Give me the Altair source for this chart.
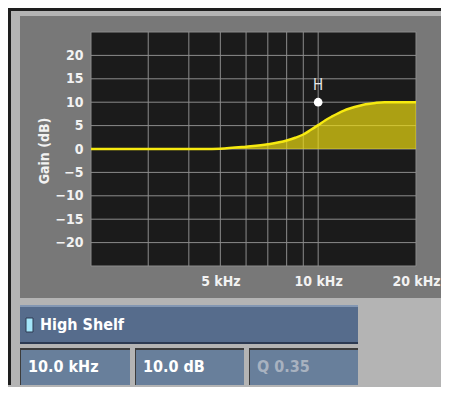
import altair as alt
import pandas as pd

# ---------------- data ----------------
freqs = [2000, 3000, 4000, 4500, 5000, 6000, 7000, 8000, 8500, 9000, 9500, 10000,
         10500, 11000, 12000, 12500, 13500, 14000, 15000, 16000, 18000, 20000]
gains = [0, 0, 0, 0.02, 0.07, 0.5, 1.0, 1.8, 2.4, 3.1, 4.1, 5.1,
         6.1, 6.9, 8.2, 8.65, 9.3, 9.55, 9.85, 10.0, 10.0, 10.0]

grid_freqs = [3000, 4000, 5000, 6000, 7000, 8000, 9000, 10000]
grid_gains = [-20, -15, -10, -5, 0, 5, 10, 15, 20]
x_tick_values = [5000, 10000, 20000]
y_tick_values = [-20, -15, -10, -5, 0, 5, 10, 15, 20]

band_freq = [10000]
band_gain = [10]
band_marker = ["H"]

filter_type = ["High Shelf"]
param_texts = ["10.0 kHz", "10.0 dB", "Q 0.35"]
y_title = ["Gain (dB)"]

curve = pd.DataFrame({"freq": freqs, "gain": gains})
gx = alt.Data(values=[{"freq": v} for v in grid_freqs])
gy = alt.Data(values=[{"gain": v} for v in grid_gains])
band = pd.DataFrame({"freq": band_freq, "gain": band_gain, "label": band_marker})
one = pd.DataFrame({"k": [0]})

FONT = "DejaVu Sans Condensed"
W, H = 325, 234

xs = alt.Scale(type="log", domain=[2000, 20000], nice=False)
ys = alt.Scale(domain=[-25, 25], nice=False, zero=False)

x_axis = alt.Axis(values=x_tick_values, labelExpr="datum.value/1000 + ' kHz'",
                  title=None, grid=False, ticks=False, domain=False,
                  labelFlush=False, labelOverlap=False, labelPadding=8,
                  labelFontSize=14, labelFontWeight="bold",
                  labelColor="#f2f2f2", labelFont=FONT, zindex=1)
y_axis = alt.Axis(values=y_tick_values, title=None, grid=False, ticks=False,
                  domain=False, labelOverlap=False, labelPadding=8,
                  labelFontSize=14, labelFontWeight="bold",
                  labelColor="#f2f2f2", labelFont=FONT, zindex=1)

X = alt.X("freq:Q", scale=xs, axis=x_axis)
Y = alt.Y("gain:Q", scale=ys, axis=y_axis)


def rect(x1, x2, y1, y2, color, **kw):
    return alt.Chart(one).mark_rect(color=color, **kw).encode(
        x=alt.value(x1), x2=alt.value(x2), y=alt.value(y1), y2=alt.value(y2))


def text(txt, x, y, color, size, align="left", **kw):
    df = pd.DataFrame({"t": [txt]})
    return alt.Chart(df).mark_text(align=align, baseline="middle", font=FONT,
                                   fontSize=size, color=color, **kw).encode(
        x=alt.value(x), y=alt.value(y), text="t:N")


# frame / panels
frame_top = rect(-83, 350, -24, -21, "#1e1e1e")
frame_left = rect(-83, -80, -24, 353, "#1e1e1e")
panel = rect(-71, 350, -16, 266, "#787878")
plot_bg = rect(0, W, 0, H, "#1b1b1b", stroke="#8c8c8c", strokeWidth=1)

vgrid = alt.Chart(gx).mark_rule(color="#8c8c8c", strokeWidth=1).encode(x=X)
hgrid = alt.Chart(gy).mark_rule(color="#8c8c8c", strokeWidth=1).encode(y=Y)

area = alt.Chart(curve).mark_area(color="#f2e010", opacity=0.68, interpolate="monotone").encode(
    x=X, y=Y, y2=alt.datum(0))
line = alt.Chart(curve).mark_line(color="#f7ea10", strokeWidth=2.5, interpolate="monotone").encode(
    x=X, y=Y)
pt = alt.Chart(band).mark_point(filled=True, color="white", size=75, opacity=1).encode(
    x=X, y=Y)
pt_label = alt.Chart(band).mark_text(dy=-17, fontSize=15, font=FONT, color="#e6e6e6",
                                     baseline="middle").encode(
    x=X, y=Y, text="label:N")

title = text(y_title[0], -46, 119, "#f2f2f2", 14, align="center", angle=270,
             fontWeight="bold")

# widgets
bar_hi = rect(-71, 267, 273, 275, "#8397b3")
bar = rect(-71, 267, 275, 310, "#566c8c")
bar_sh = rect(-71, 267, 310, 312, "#2c3a52")
ind = rect(-65, -58, 286, 300, "#a4e6fa", stroke="#2c3a52", strokeWidth=1)
bar_txt = text(filter_type[0], -51, 293, "#ffffff", 16, fontWeight="bold")

boxes = []
for (x1, x2), t, c in zip([(-71, 39), (44, 153), (158, 267)], param_texts,
                          ["#ffffff", "#ffffff", "#a8b2c0"]):
    boxes.append(rect(x1, x2, 316, 353, "#3c3c3c"))
    boxes.append(rect(x1 + 1, x2, 318, 353, "#687f9b"))
    boxes.append(text(t, x1 + 8, 335, c, 16, fontWeight="bold"))

chart = alt.layer(
    frame_top, frame_left, panel, plot_bg, vgrid, hgrid, area, line, pt, pt_label, title,
    bar_hi, bar, bar_sh, ind, bar_txt, *boxes
).properties(
    width=W, height=H,
    autosize=alt.AutoSizeParams(type="none"),
    padding={"left": 83, "top": 24, "right": 25, "bottom": 121},
    background="#b4b4b4",
).configure_view(stroke=None)

chart.save("out.html", embed_options={"renderer": "svg", "actions": False})
